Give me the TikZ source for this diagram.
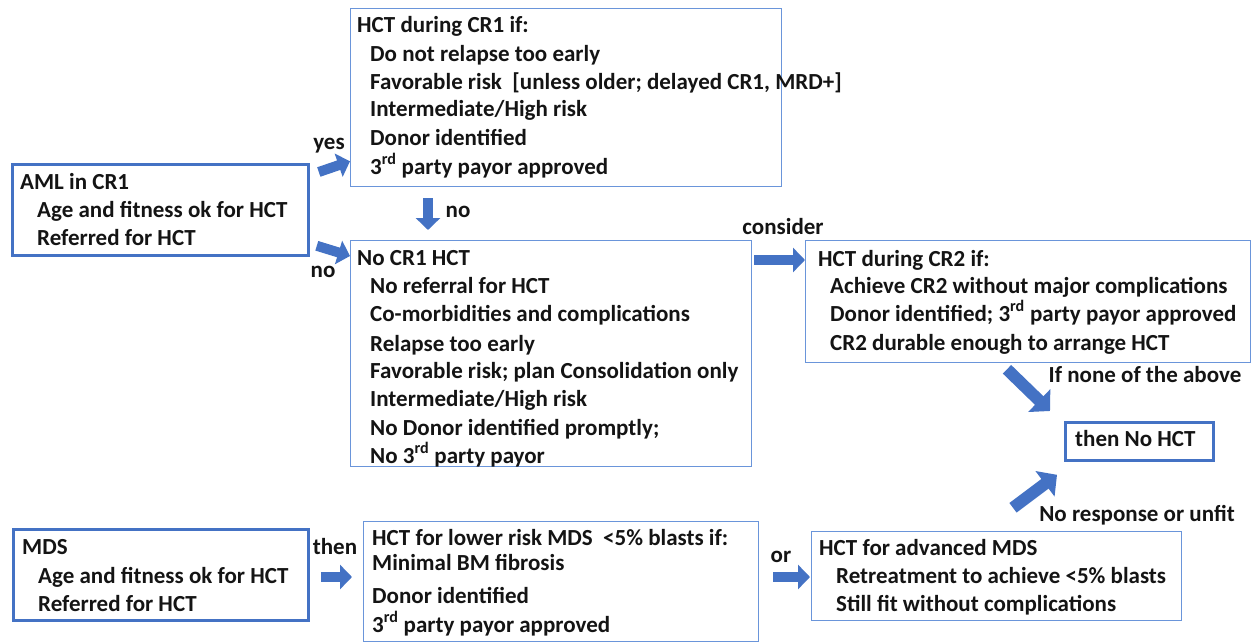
\documentclass[tikz,border=0pt]{standalone}
\usepackage{fontspec}
\setmainfont{Carlito}
\usetikzlibrary{arrows.meta}
\definecolor{ablue}{HTML}{4472C4}
\definecolor{bline}{HTML}{6A95DA}
\tikzset{
  box/.style={draw=bline, line width=1.3pt, anchor=north west, inner sep=0pt},
  tbox/.style={draw=ablue, line width=2.8pt, anchor=north west, inner sep=0pt},
  txt/.style={anchor=west, inner sep=0pt, text height=16pt, text depth=4pt,
    font=\fontsize{23}{28}\selectfont\bfseries, text=black!92},
  lbl/.style={txt, anchor=center},
  barrow/.style={draw=ablue, line width=10pt, -{Triangle[length=12pt,width=24pt]}},
  darrow/.style={draw=ablue, line width=12pt, -{Triangle[length=15pt,width=31pt]}},
}
\begin{document}
\begin{tikzpicture}[x=1pt,y=-1pt]
\useasboundingbox[fill=white] (0,0) rectangle (1254,642);
% boxes
\node[box, minimum width=431pt, minimum height=178pt] (cr1) at (350,8) {};
\node[tbox, minimum width=296pt, minimum height=91pt] (aml) at (11,163) {};
\node[box, minimum width=401pt, minimum height=226pt] (no1) at (350,240) {};
\node[box, minimum width=445pt, minimum height=122pt] (cr2) at (805,240) {};
\node[tbox, minimum width=148pt, minimum height=38pt] (nohct) at (1064,421) {};
\node[tbox, minimum width=295pt, minimum height=91pt] (mds) at (12,528) {};
\node[box, minimum width=395pt, minimum height=120pt] (low) at (363,521) {};
\node[box, minimum width=370pt, minimum height=89pt] (adv) at (811,531) {};
% texts CR1
\node[txt] (t1a) at (357,27) {HCT during CR1 if:};
\node[txt] (t1b) at (370,56) {Do not relapse too early};
\node[txt] (t1c) at (370,84) {Favorable risk\ \ [unless older; delayed CR1, MRD+]};
\node[txt] (t1d) at (370,111) {Intermediate/High risk};
\node[txt] (t1e) at (370,139) {Donor identified};
\node[txt] (t1f) at (370,168) {3\textsuperscript{rd} party payor approved};
% AML
\node[txt] (t2a) at (20,183) {AML in CR1};
\node[txt] (t2b) at (37,211) {Age and fitness ok for HCT};
\node[txt] (t2c) at (37,239) {Referred for HCT};
% No CR1
\node[txt] (t3a) at (357,259) {No CR1 HCT};
\node[txt] (t3b) at (370,287) {No referral for HCT};
\node[txt] (t3c) at (370,315) {Co-morbidities and complications};
\node[txt] (t3d) at (370,345) {Relapse too early};
\node[txt] (t3e) at (370,372) {Favorable risk; plan Consolidation only};
\node[txt] (t3f) at (370,400) {Intermediate/High risk};
\node[txt] (t3g) at (370,429) {No Donor identified promptly;};
\node[txt] (t3h) at (370,457) {No 3\textsuperscript{rd} party payor};
% CR2
\node[txt] (t4a) at (818,260) {HCT during CR2 if:};
\node[txt] (t4b) at (830,287) {Achieve CR2 without major complications};
\node[txt] (t4c) at (830,315) {Donor identified; 3\textsuperscript{rd} party payor approved};
\node[txt] (t4d) at (830,344) {CR2 durable enough to arrange HCT};
% No HCT
\node[txt] (t5a) at (1075,440) {then No HCT};
% MDS
\node[txt] (t6a) at (22,548) {MDS};
\node[txt] (t6b) at (38,577) {Age and fitness ok for HCT};
\node[txt] (t6c) at (38,605) {Referred for HCT};
% lower risk
\node[txt] (t7a) at (372,539) {HCT for lower risk MDS\ \ <5\% blasts if:};
\node[txt] (t7b) at (372,564) {Minimal BM fibrosis};
\node[txt] (t7c) at (372,597) {Donor identified};
\node[txt] (t7d) at (372,626) {3\textsuperscript{rd} party payor approved};
% advanced
\node[txt] (t8a) at (819,549) {HCT for advanced MDS};
\node[txt] (t8b) at (836,577) {Retreatment to achieve <5\% blasts};
\node[txt] (t8c) at (836,605) {Still fit without complications};
% labels
\node[lbl] (lyes) at (329,143) {yes};
\node[lbl] (lno1) at (323,271) {no};
\node[lbl] (lno2) at (458,211) {no};
\node[lbl] (lcons) at (783,228) {consider};
\node[lbl] (lthen) at (335,548) {then};
\node[lbl] (lor) at (781,556) {or};
\node[lbl] (lnone) at (1145,376) {If none of the above};
\node[lbl] (lresp) at (1137,515) {No response or unfit};
% arrows
\draw[barrow] ([shift={(9pt,-9pt)}]aml.north east) -- ([yshift=26pt]cr1.south west);
\draw[barrow] ([shift={(7pt,11pt)}]aml.south east) -- ([yshift=-16pt]no1.north west);
\draw[barrow] ([shift={(78pt,-11pt)}]cr1.south west) -- ([shift={(78pt,10pt)}]no1.north west);
\draw[barrow] ([shift={(2pt,-20pt)}]no1.north east) -- ([yshift=-20pt]cr2.north west);
\draw[barrow] ([shift={(11pt,-49pt)}]mds.north east) -- ([shift={(-11pt,-56pt)}]low.north west);
\draw[barrow] ([shift={(14pt,-56pt)}]low.north east) -- ([shift={(-1pt,-46pt)}]adv.north west);
\draw[darrow] ([shift={(202pt,-6pt)}]cr2.south west) -- ([shift={(-14pt,10pt)}]nohct.north west);
\draw[darrow] ([shift={(-51pt,-46pt)}]nohct.south west) -- ([shift={(-7pt,-13pt)}]nohct.south west);
\end{tikzpicture}
\end{document}
